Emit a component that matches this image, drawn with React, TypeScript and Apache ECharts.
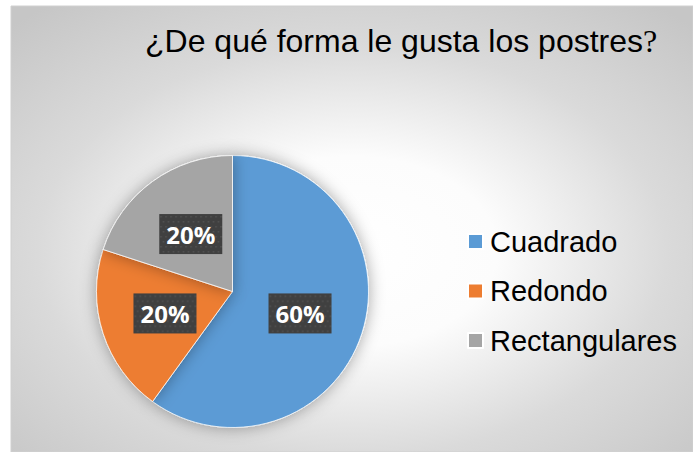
import React, { useEffect, useRef } from "react";
import * as echarts from "echarts";

const titleText = "¿De qué forma le gusta los postres";
const categories = ["Cuadrado", "Redondo", "Rectangulares"];
const values = [60, 20, 20];
const colors = ["#5B9BD5", "#ED7D31", "#A5A5A5"];

function makePattern(w: number, h: number): string {
  const c = document.createElement("canvas");
  c.width = w;
  c.height = h;
  const ctx = c.getContext("2d");
  if (!ctx) return "";
  ctx.fillStyle = "#404040";
  ctx.fillRect(0, 0, w, h);
  ctx.fillStyle = "#555555";
  let row = 0;
  for (let y = 2; y < h; y += 5) {
    const off = row % 2 === 0 ? 1 : 3.5;
    for (let x = off; x < w; x += 5) ctx.fillRect(x, y, 1.5, 1.5);
    row++;
  }
  return c.toDataURL();
}

export default function App() {
  const ref = useRef<HTMLDivElement>(null);
  useEffect(() => {
    if (!ref.current) return;
    const chart = echarts.init(ref.current, undefined, { renderer: "svg" });
    const pattern = makePattern(63, 40);
    chart.setOption({
      animation: false,
      title: {
        text: "{a|" + titleText + "}{b|?}",
        left: 145,
        top: 25,
        padding: 0,
        textStyle: {
          fontWeight: "normal",
          rich: {
            a: { fontSize: 32, fontWeight: "normal", fontFamily: "Liberation Sans, Arial", color: "#000" },
            b: { fontSize: 32, fontWeight: "normal", fontFamily: "Liberation Serif, serif", color: "#000" },
          },
        },
      },
      graphic: [
        {
          type: "rect",
          z: -10,
          silent: true,
          shape: { x: 11, y: 6, width: 682, height: 446 },
          style: {
            fill: new echarts.graphic.RadialGradient(0.5, 0.55, 0.71, [
              { offset: 0, color: "#ffffff" },
              { offset: 0.3, color: "#fcfcfc" },
              { offset: 0.65, color: "#dadada" },
              { offset: 1, color: "#c6c6c6" },
            ]),
            stroke: "#d0d0d0",
            lineWidth: 1,
          },
        },
      ],
      legend: {
        orient: "vertical",
        left: 467,
        top: 227,
        padding: 0,
        itemWidth: 15,
        itemHeight: 15,
        itemGap: 20.5,
        icon: "rect",
        data: categories,
        textStyle: {
          fontSize: 29,
          lineHeight: 28,
          fontFamily: "Liberation Sans, Arial",
          color: "#000",
          padding: [0, 0, 0, 2],
        },
      },
      series: [
        {
          type: "pie",
          center: [232.5, 291.5],
          radius: 136,
          startAngle: 90,
          clockwise: true,
          data: categories.map((name, i) => ({
            name,
            value: values[i],
            itemStyle: { color: colors[i] },
          })),
          itemStyle: {
            borderColor: "#ffffff",
            borderWidth: 0.75,
            shadowBlur: 16,
            shadowColor: "rgba(0,0,0,0.35)",
          },
          label: {
            show: true,
            position: "inside",
            formatter: "{d}%",
            fontFamily: "Open Sans",
            fontWeight: "bold",
            fontSize: 24,
            lineHeight: 26,
            color: "#ffffff",
            width: 53,
            height: 26,
            overflow: "none",
            align: "center",
            padding: [7, 5],
            backgroundColor: pattern ? { image: pattern } : "#404040",
            shadowColor: "rgba(0,0,0,0.5)",
            shadowBlur: 4,
            shadowOffsetX: 3,
            shadowOffsetY: 3,
          },
          labelLine: { show: false },
          emphasis: { disabled: true },
        },
      ],
    });
    return () => chart.dispose();
  }, []);
  return (
    <div
      ref={ref}
      style={{ position: "fixed", left: 0, top: 0, width: 693, height: 452, background: "#ffffff" }}
    />
  );
}
